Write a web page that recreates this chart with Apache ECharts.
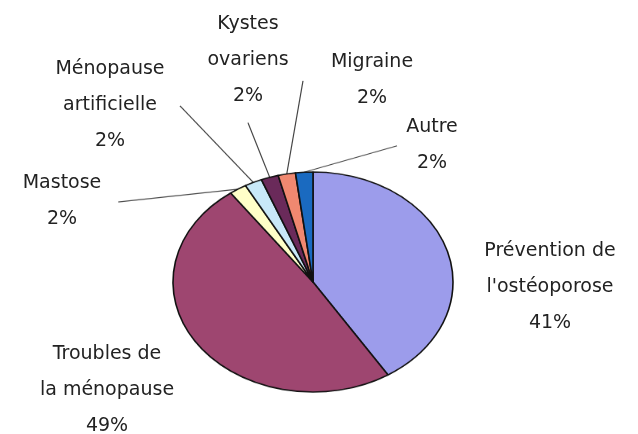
<!DOCTYPE html>
<html>
<head>
<meta charset="utf-8">
<script src="https://cdn.jsdelivr.net/npm/echarts@6/dist/echarts.min.js"></script>
<style>
	body{margin:0;background:#fff;}
	.layer{position:absolute;left:0;top:0;width:638px;height:434px;}
	/* the pie in the picture is drawn tilted, so the slice layer is squeezed */
	#pie{transform:scaleY(0.786);transform-origin:0 282px;}
</style>
</head>
<body>
<div id="pie" class="layer"></div>
<div id="txt" class="layer"></div>
<script>
var categories = ["Prévention de\nl'ostéoporose", "Troubles de\nla ménopause", "Mastose",
	"Ménopause\nartificielle", "Kystes\novariens", "Migraine", "Autre"];
var values = [41, 49, 2, 2, 2, 2, 2];
var colors = ['#9c9ceb', '#9e4670', '#ffffc8', '#c8e8f8', '#6a2a5a', '#f08870', '#1a6ac0'];

var SCALE = 0.786, CY = 282;
// centre of each label block (as seen in the picture)
var labelPos = [[550, 287], [107, 390], [62, 201], [110, 105], [248, 60], [372, 80], [432, 145]];
// where the leader line meets the label (as seen in the picture), null = no line
var lineEnd = [null, null, [118, 202], [180, 105], [248, 122], [303, 80], [397, 145]];

initPage();

function initPage(){
	makeSlices();
	makeLabels();
}

function makeSlices(){
	var myChart = echarts.init(document.getElementById('pie'));
	var data = [];
	for(var i=0;i<categories.length;i++){
		data.push({name:categories[i], value:values[i], itemStyle:{color:colors[i]}, labelLine:{show:!!lineEnd[i]}});
	}
	var option = {
		animation:false,
		series:[{
			type:'pie',
			center:[313, CY],
			radius:140,
			startAngle:90,
			silent:true,
			itemStyle:{borderColor:'#111', borderWidth:1.6},
			label:{show:true, formatter:function(p){ return lineEnd[p.dataIndex] ? ' ' : ''; }, color:'transparent', fontSize:2},
			labelLine:{show:true, length:0, length2:0, lineStyle:{color:'#444', width:1.2}},
			labelLayout:function(p){
				var e = lineEnd[p.dataIndex];
				if(!e) return {};
				// undo the squeeze so the line ends where the picture has it
				return {x:e[0], y:CY + (e[1]-CY)/SCALE, align:'center', verticalAlign:'middle'};
			},
			data:data
		}]
	};
	myChart.setOption(option);
}

function makeLabels(){
	var myChart = echarts.init(document.getElementById('txt'));
	var data = [];
	for(var i=0;i<categories.length;i++){
		data.push({name:categories[i], value:values[i]});
	}
	var option = {
		animation:false,
		series:[{
			type:'pie',
			center:[313, CY],
			radius:140,
			startAngle:90,
			silent:true,
			itemStyle:{color:'transparent', borderWidth:0},
			label:{
				show:true,
				formatter:'{b}\n{d}%',
				fontFamily:'DejaVu Sans',
				fontSize:19,
				lineHeight:36,
				color:'#222',
				align:'center',
				overflow:'none'
			},
			labelLine:{show:false},
			labelLayout:function(p){
				var q = labelPos[p.dataIndex];
				return {x:q[0], y:q[1], align:'center', verticalAlign:'middle', width:300};
			},
			data:data
		}]
	};
	myChart.setOption(option);
}
</script>
</body>
</html>
